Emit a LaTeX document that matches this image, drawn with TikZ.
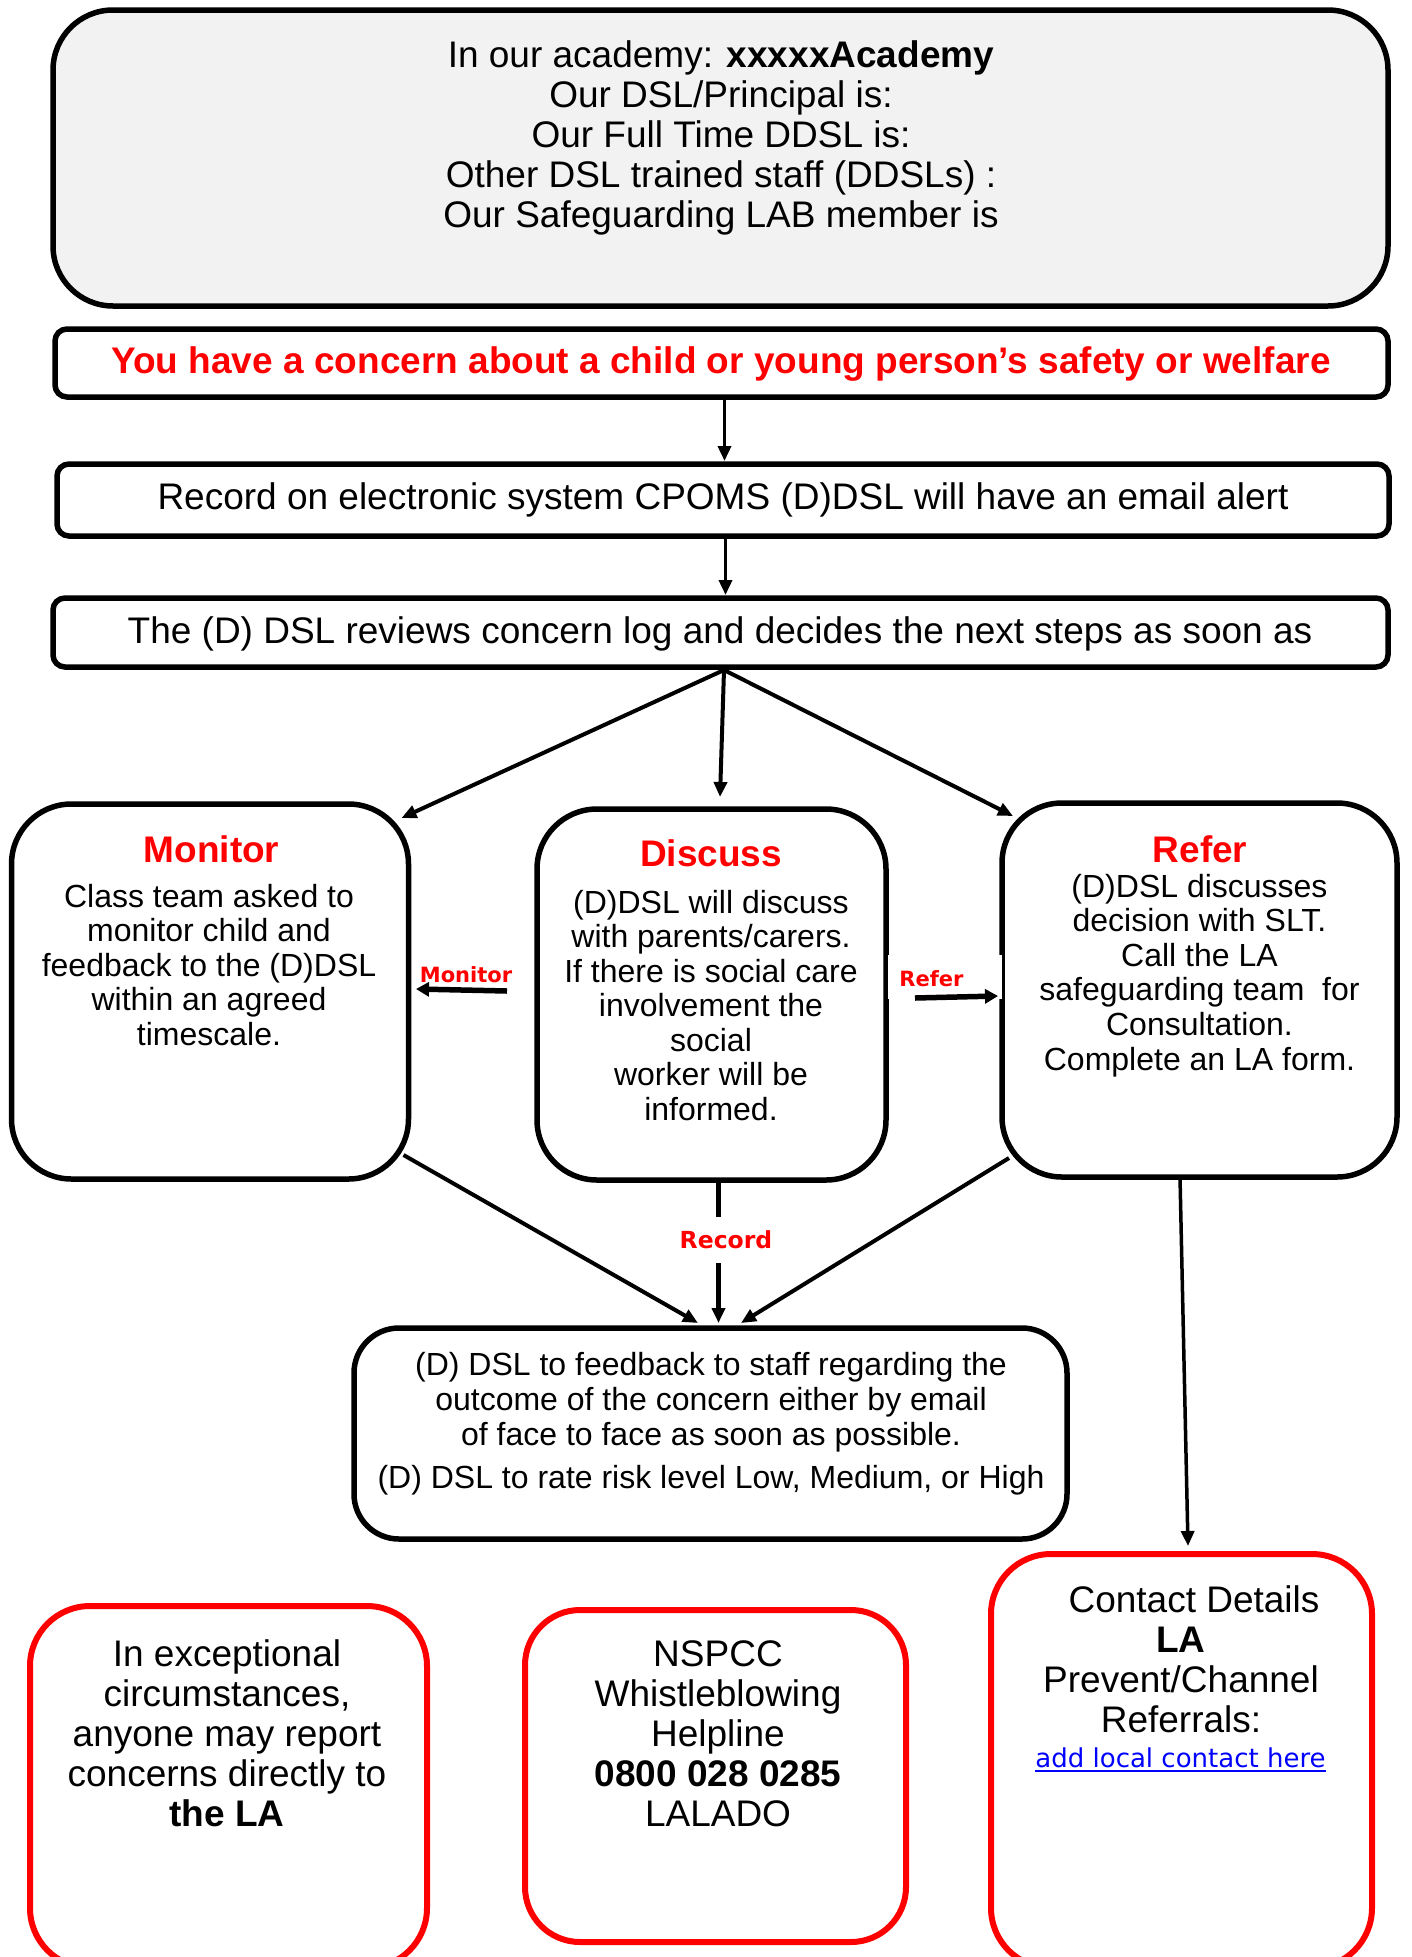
\documentclass[tikz,border=0pt]{standalone}
\usepackage{fontspec}
\setmainfont{Liberation Sans}
\newfontfamily\vfont{DejaVu Sans}
\usetikzlibrary{calc,arrows.meta}
\definecolor{boxgrey}{HTML}{F2F2F2}
\definecolor{linkblue}{HTML}{0000FF}
\definecolor{redc}{HTML}{FF0000}
\newcommand{\fsz}[2]{\fontsize{#1pt}{#2pt}\selectfont}
\newcommand{\fl}{\rule{0pt}{30pt}}
\begin{document}
\begin{tikzpicture}[x=1pt,y=-1pt,
  box/.style={draw=black, line width=5.5pt, inner sep=0pt, outer sep=0pt, fill=white, rounded corners=#1},
  redbox/.style={draw=redc, line width=6pt, inner sep=0pt, outer sep=0pt, fill=white, rounded corners=#1},
  txt/.style={inner sep=0pt, outer sep=0pt, align=center, anchor=north},
  lbl/.style={inner sep=0pt, outer sep=0pt, text=redc, font=\vfont\bfseries\fsz{21}{24}},
  arr/.style={-{Triangle[length=15pt,width=13pt]}, line width=4pt},
  bigarr/.style={-{Triangle[length=13pt,width=14pt]}, line width=5.5pt}]
\useasboundingbox (0,0) rectangle (1411,1957);

% boxes
\node[box=60pt, fill=boxgrey, minimum width=1335pt, minimum height=296pt] (top) at (720.5,158) {};
\node[box=12pt, minimum width=1333pt, minimum height=68pt] (conc) at (721.5,363) {};
\node[box=12pt, minimum width=1332pt, minimum height=72pt] (rec) at (723,500) {};
\node[box=12pt, minimum width=1335pt, minimum height=69pt] (rev) at (720.5,632.5) {};
\node[box=60pt, minimum width=397pt, minimum height=375pt] (mon) at (210,991.5) {};
\node[box=60pt, minimum width=349pt, minimum height=371pt] (disc) at (711.5,994.5) {};
\node[box=60pt, minimum width=395pt, minimum height=374pt] (ref) at (1199.5,990) {};
\node[box=45pt, minimum width=713pt, minimum height=211pt] (fb) at (710.5,1433.5) {};
\node[redbox=60pt, minimum width=397pt, minimum height=362pt] (exc) at (228.5,1787) {};
\node[redbox=55pt, minimum width=381pt, minimum height=332pt] (nspcc) at (715.5,1776) {};
\node[redbox=60pt, minimum width=381pt, minimum height=414pt] (cont) at (1181.5,1761) {};

% texts
\node[txt, font=\fsz{37}{40}] (toptxt) at (721,37) {\fl In our academy: \textbf{xxxxxAcademy}\\ Our DSL/Principal is:\\ Our Full Time DDSL is:\\ Other DSL trained staff (DDSLs) :\\ Our Safeguarding LAB member is};
\node[txt, font=\bfseries\fsz{37}{40}, text=redc] (conctxt) at (721,343) {\fl You have a concern about a child or young person’s safety or welfare};
\node[txt, font=\fsz{37}{40}] (rectxt) at (723,479) {\fl Record on electronic system CPOMS (D)DSL will have an email alert};
\node[txt, font=\fsz{37}{40}] (revtxt) at (720,613) {\fl The (D) DSL reviews concern log and decides the next steps as soon as};

\node[txt, font=\bfseries\fsz{37}{40}, text=redc] (montitle) at (211.5,832) {\fl Monitor};
\node[txt, font=\fsz{32}{34.5}] (montxt) at (209,877) {\fl Class team asked to\\ monitor child and\\ feedback to the (D)DSL\\ within an agreed\\ timescale.};

\node[txt, font=\bfseries\fsz{37}{40}, text=redc] (disctitle) at (711,836) {\fl Discuss};
\node[txt, font=\fsz{32}{34.5}] (disctxt) at (711,883) {\fl (D)DSL will discuss\\ with parents/carers.\\ If there is social care\\ involvement the\\ social\\ worker will be\\ informed.};

\node[txt, font=\bfseries\fsz{37}{40}, text=redc] (reftitle) at (1200,832) {\fl Refer};
\node[txt, font=\fsz{32}{34.6}] (reftxt) at (1199.5,867) {\fl (D)DSL discusses\\ decision with SLT.\\ Call the LA\\ safeguarding team\ \ for\\ Consultation.\\ Complete an LA form.};

\node[txt, font=\fsz{32}{35}] (fbtxt) at (711,1345) {\fl (D) DSL to feedback to staff regarding the\\ outcome of the concern either by email\\ of face to face as soon as possible.\\[8pt] (D) DSL to rate risk level Low, Medium, or High};

\node[txt, font=\fsz{37}{40}] (exctxt) at (227,1636) {\fl In exceptional\\ circumstances,\\ anyone may report\\ concerns directly to\\ \textbf{the LA}};
\node[txt, font=\fsz{37}{40}] (nspcctxt) at (718,1636) {\fl NSPCC\\ Whistleblowing\\ Helpline\\ \textbf{0800 028 0285}\\ LALADO};
\node[txt, font=\fsz{37}{40.3}] (conttxt) at (1181,1582) {\fl \hspace*{26pt}Contact Details\\ \textbf{LA}\\ Prevent/Channel\\ Referrals:};
\node[inner sep=0pt, outer sep=0pt, anchor=base, text=linkblue, font=\vfont\fsz{26}{30}] (link) at (1180.5,1767) {add local contact here};
\draw[linkblue, line width=2pt] ($(link.base west)+(0,3.5)$) -- ($(link.base east)+(0,3.5)$);

% label backgrounds and labels
\node[fill=white, inner sep=0pt, minimum width=114pt, minimum height=44pt] (refbg) at (945,977) {};
\node[lbl, anchor=base] (refl) at (931.5,986) {Refer};
\node[lbl, anchor=base] (monl) at (466,982) {Monitor};
\node[inner sep=0pt, outer sep=0pt, minimum height=46pt, text=redc, font=\vfont\bfseries\fsz{23.5}{26}] (recl) at (726,1240) {Record};

% connectors
\draw[arr, line width=3.5pt] ($(conc.south)+(3,3)$) -- ($(rec.north)+(1.5,-3)$);
\draw[arr, line width=3.5pt] ($(rec.south)+(2.5,3)$) -- ($(rev.north)+(5,-3)$);
\draw[arr] ($(rev.south)+(3.5,3)$) -- ($(mon.north east)+(-7,14)$);
\draw[arr] ($(rev.south)+(3.5,3)$) -- ($(disc.north)+(8.5,-12)$);
\draw[arr] ($(rev.south)+(3.5,3)$) -- ($(ref.north west)+(11,13)$);
\draw[bigarr] ($(disc.west)+(-30,-3.5)$) -- ($(mon.east)+(7.5,-2.5)$);
\draw[bigarr] ($(disc.east)+(29,3.5)$) -- ($(ref.west)+(-4,6)$);
\draw[arr] ($(mon.south east)+(-5,-24)$) -- ($(fb.north)+(-12.5,-5)$);
\draw[line width=5pt] ($(disc.south)+(7,0)$) -- ($(recl.north)+(-7.5,0)$);
\draw[arr, line width=5pt] ($(recl.south)+(-7.5,0)$) -- ($(fb.north)+(8,-5)$);
\draw[arr] ($(ref.south west)+(7,-19)$) -- ($(fb.north)+(30.5,-5)$);
\draw[arr, line width=3.5pt] ($(ref.south)+(-19.5,0)$) -- ($(cont.north)+(6.5,-8)$);
\end{tikzpicture}
\end{document}
